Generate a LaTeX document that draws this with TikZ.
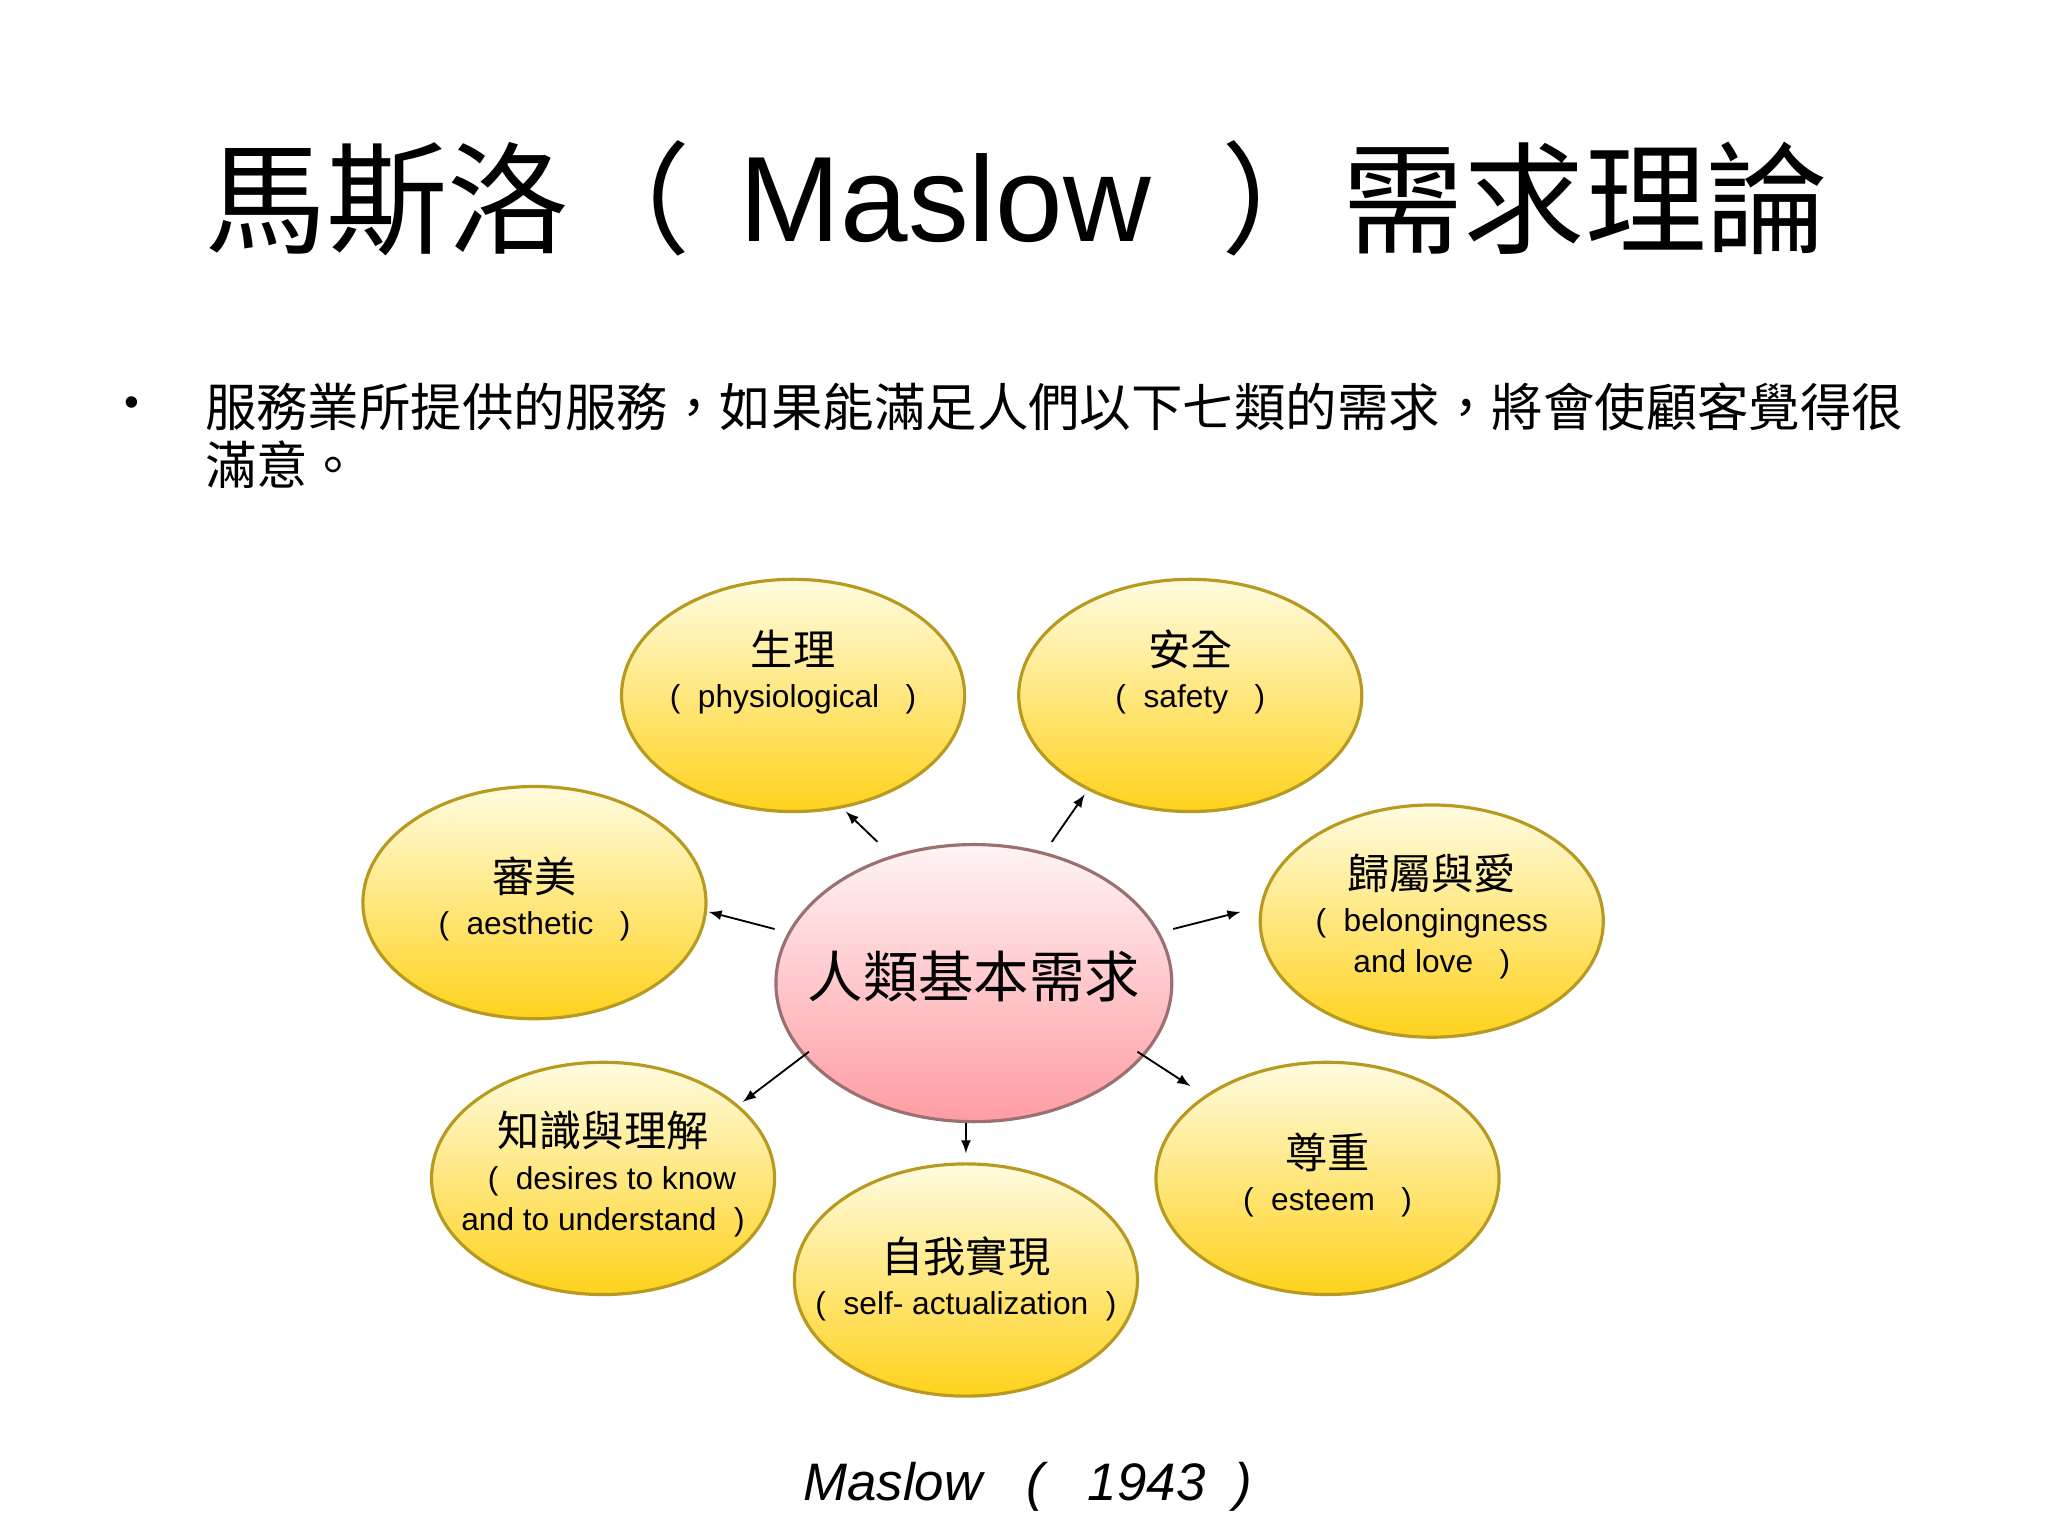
\documentclass[tikz,border=0pt]{standalone}
\usepackage{fontspec}
\setmainfont{Liberation Sans}
\newfontfamily\cjk{Noto Sans CJK TC}
\definecolor{ytop}{HTML}{FFFCE0}
\definecolor{ybot}{HTML}{FFD21C}
\definecolor{yedge}{HTML}{B89A20}
\definecolor{ptop}{HTML}{FFF4F4}
\definecolor{pbot}{HTML}{FF9CA4}
\definecolor{pedge}{HTML}{9A7070}
\tikzset{
  need/.style={ellipse,minimum width=130pt,minimum height=88pt,top color=ytop,bottom color=ybot,draw=yedge,line width=1.2pt},
  core/.style={ellipse,minimum width=150pt,minimum height=105pt,top color=ptop,bottom color=pbot,draw=pedge,line width=1.2pt},
  zh/.style={font=\cjk\fontsize{16}{18}\selectfont,inner sep=0pt},
  en/.style={font=\fontsize{12}{15.5}\selectfont,inner sep=0pt,align=center},
  arr/.style={-latex,line width=0.7pt}
}
\usetikzlibrary{shapes.geometric}
\begin{document}
\begin{tikzpicture}[x=0.5pt,y=-0.5pt]
\useasboundingbox[fill=white] (0,0) rectangle (1552,1164);
% title
\node[font=\cjk\fontsize{46}{50}\selectfont,anchor=west,inner sep=0pt] (t1) at (155,150) {馬斯洛（};
\node[font=\fontsize{46}{50}\selectfont,anchor=west,inner sep=0pt] (t2) at (560,150) {Maslow};
\node[font=\cjk\fontsize{46}{50}\selectfont,anchor=west,inner sep=0pt] (t3) at (925,150) {）需求理論};
% bullet
\node[font=\fontsize{16}{18}\selectfont,inner sep=0pt] (bul) at (100,308) {•};
\node[font=\cjk\fontsize{19.5}{22}\selectfont,anchor=west,inner sep=0pt] (b1) at (155,308) {服務業所提供的服務，如果能滿足人們以下七類的需求，將會使顧客覺得很};
\node[font=\cjk\fontsize{19.5}{22}\selectfont,anchor=west,inner sep=0pt] (b2) at (155,352) {滿意。};
% ellipses
\node[need] (e1) at (601,527) {};
\node[need] (e2) at (902,527) {};
\node[need] (e3) at (405,684) {};
\node[need] (e4) at (1085,698) {};
\node[need] (e5) at (457,893) {};
\node[need] (e6) at (732,970) {};
\node[need] (e7) at (1006,893) {};
\node[core] (c) at (738,745) {};
\node[font=\cjk\fontsize{21}{24}\selectfont,inner sep=0pt] (ct) at (738,740) {人類基本需求};
% texts
\node[zh] (z1) at (601,492) {生理};
\node[en] (n1) at (601,530) {(\ \ physiological\ \ \ )};
\node[zh] (z2) at (902,492) {安全};
\node[en] (n2) at (902,530) {(\ \ safety\ \ \ )};
\node[zh] (z3) at (405,664) {審美};
\node[en] (n3) at (405,702) {(\ \ aesthetic\ \ \ )};
\node[zh] (z4) at (1085,662) {歸屬與愛};
\node[en] (n4) at (1085,715) {(\ \ belongingness\\and love\ \ \ )};
\node[zh] (z5) at (457,857) {知識與理解};
\node[en] (n5) at (457,911) {\ \ (\ \ desires to know\\and to understand\ \ )};
\node[zh] (z6) at (732,952) {自我實現};
\node[en] (n6) at (732,990) {(\ \ self- actualization\ \ )};
\node[zh] (z7) at (1006,873) {尊重};
\node[en] (n7) at (1006,911) {(\ \ esteem\ \ \ )};
% arrows
\coordinate (a1s) at (665,638); \coordinate (a1e) at (641,615);
\coordinate (a2s) at (797,638); \coordinate (a2e) at (822,602);
\coordinate (a3s) at (587,704); \coordinate (a3e) at (537,691);
\coordinate (a4s) at (889,704); \coordinate (a4e) at (940,691);
\coordinate (a5s) at (613,797); \coordinate (a5e) at (563,835);
\coordinate (a6s) at (732,851); \coordinate (a6e) at (732,874);
\coordinate (a7s) at (862,797); \coordinate (a7e) at (902,823);
\foreach \i in {1,...,7} {\draw[arr] (a\i s) -- (a\i e);}
% footer
\node[font=\itshape\fontsize{20}{24}\selectfont,inner sep=0pt] (foot) at (779,1127) {Maslow\ \ \ (\ \ \ 1943\ \ )};
\end{tikzpicture}
\end{document}
